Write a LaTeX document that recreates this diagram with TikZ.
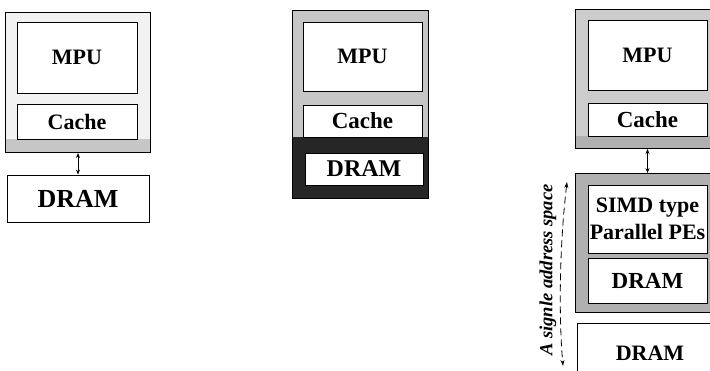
\documentclass[tikz,border=0pt]{standalone}
\usepackage{fontspec}
\setmainfont{Liberation Serif}
\usetikzlibrary{arrows.meta}
\tikzset{
  frame/.style={draw=black, line width=1pt, inner sep=0pt, anchor=north west},
  inbox/.style={draw=black, line width=0.9pt, fill=white, inner sep=0pt, align=center,
     font=\bfseries\fontsize{22}{24}\selectfont},
  link/.style={line width=0.7pt, {Stealth[length=5pt,width=4pt]}-{Stealth[length=5pt,width=4pt]}},
}
\begin{document}
\begin{tikzpicture}[x=1pt,y=-1pt]
\useasboundingbox (0,0) rectangle (710,370);
\clip (0,0) rectangle (710,370);
\fill[white] (0,0) rectangle (710,370);

% ---------- panel 1 ----------
\node[frame, fill=gray!10, minimum width=145pt, minimum height=140pt] (outer1) at (5,12) {};
\fill[gray!45] (5.5,139) rectangle (149.5,151.5);
\draw[line width=1pt] (5,12) rectangle (150,152);
\node[inbox, minimum width=120pt, minimum height=71pt] (mpu1) at (77,57.5) {MPU};
\node[inbox, minimum width=120pt, minimum height=35pt] (cache1) at (77,121.5) {Cache};
\node[inbox, minimum width=142pt, minimum height=47pt, font=\bfseries\fontsize{26}{28}\selectfont] (dram1) at (78,198.5) {DRAM};
\draw[link] (outer1.south) -- (outer1.south |- dram1.north);

% ---------- panel 2 ----------
\node[frame, fill=gray!45, minimum width=136pt, minimum height=188pt] (outer2) at (292,10) {};
\fill[black!85] (292,137) rectangle (428,198);
\draw[line width=1pt] (292,10) rectangle (428,198);
\node[inbox, minimum width=119pt, minimum height=69pt] (mpu2) at (362.5,56.5) {MPU};
\node[inbox, minimum width=119pt, minimum height=32pt, font=\bfseries\fontsize{23}{25}\selectfont] (cache2) at (362.5,121) {Cache};
\node[inbox, minimum width=118pt, minimum height=32pt, font=\bfseries\fontsize{24}{26}\selectfont] (dram2) at (364,169) {DRAM};

% ---------- panel 3 ----------
\node[frame, fill=gray!40, minimum width=147pt, minimum height=139pt] (outer3a) at (575,9) {};
\fill[gray!62] (575.5,136) rectangle (721,147.5);
\draw[line width=1pt] (575,9) rectangle (722,148);
\node[inbox, minimum width=119pt, minimum height=70pt] (mpu3) at (647.5,55) {MPU};
\node[inbox, minimum width=119pt, minimum height=33pt, font=\bfseries\fontsize{23}{25}\selectfont] (cache3) at (647.5,119.5) {Cache};

\node[frame, fill=gray!62, minimum width=147pt, minimum height=139pt] (outer3b) at (575,173) {};
\node[inbox, minimum width=119pt, minimum height=68pt, font=\bfseries\fontsize{22}{27}\selectfont] (simd) at (647.5,219) {SIMD type\\Parallel PEs};
\node[inbox, minimum width=119pt, minimum height=45pt, font=\bfseries\fontsize{23}{25}\selectfont] (dram3) at (647.5,280.5) {DRAM};
\node[inbox, minimum width=146pt, minimum height=60pt] (dram4) at (650,353) {DRAM};

\draw[link] (cache3.south |- outer3a.south) -- (cache3.south |- outer3b.north);

% dashed address-space arrow and label
\coordinate (sa) at (567,182);
\coordinate (sb) at (563,366);
\draw[line width=0.8pt, dash pattern=on 7pt off 4pt,
      {Stealth[length=6pt,width=4pt,open]}-{Stealth[length=6pt,width=4pt,open]}]
  (sa) .. controls (559,250) and (559,320) .. (sb);
\node[rotate=90, font=\bfseries\itshape\fontsize{18.5}{21}\selectfont, inner sep=0pt] (space) at (548,270) {A signle address space};
\end{tikzpicture}
\end{document}
